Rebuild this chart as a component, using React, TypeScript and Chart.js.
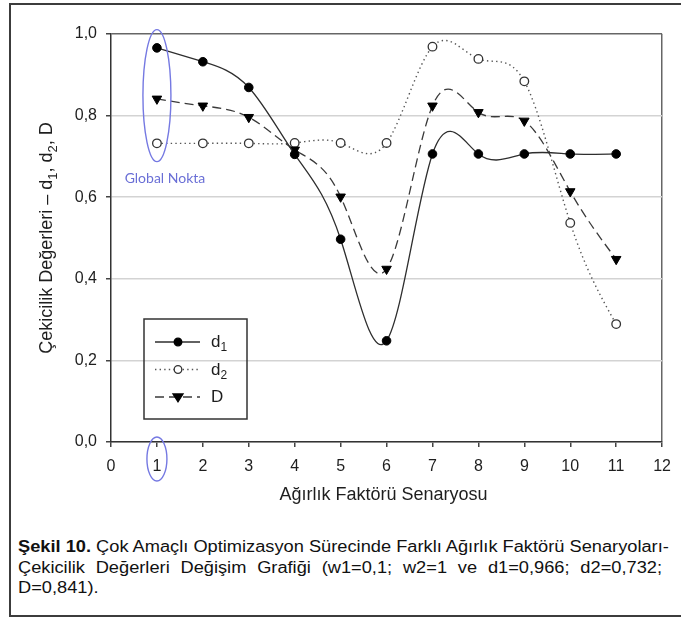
import React, { useEffect, useRef } from "react";
import { Chart, registerables } from "chart.js";

Chart.register(...registerables);

// ---- data ----
const scenarios = [1, 2, 3, 4, 5, 6, 7, 8, 9, 10, 11];
const d1Values = [0.966, 0.932, 0.869, 0.705, 0.497, 0.248, 0.706, 0.706, 0.706, 0.706, 0.706];
const d2Values = [0.732, 0.732, 0.732, 0.733, 0.733, 0.733, 0.969, 0.939, 0.884, 0.537, 0.289];
const dValues = [0.841, 0.824, 0.796, 0.716, 0.601, 0.424, 0.824, 0.808, 0.787, 0.614, 0.448];
const xTicks = [0, 1, 2, 3, 4, 5, 6, 7, 8, 9, 10, 11, 12];
const yTicks = [0, 0.2, 0.4, 0.6, 0.8, 1.0];
const seriesNames = ["d1", "d2", "D"];
const xTitle = "Ağırlık Faktörü Senaryosu";
const yTitleParts: [string, boolean][] = [
  ["Çekicilik Değerleri – d", false],
  ["1", true],
  [", d", false],
  ["2", true],
  [", D", false],
];
const globalLabel = "Global Nokta";
const globalScenario = 1;
const captionBold = "Şekil 10.";
const captionLines = [
  " Çok Amaçlı Optimizasyon Sürecinde Farklı Ağırlık Faktörü Senaryoları-",
  "Çekicilik Değerleri Değişim Grafiği (w1=0,1; w2=1 ve d1=0,966; d2=0,732;",
  "D=0,841).",
];

const FONT = "'Liberation Sans', Arial, sans-serif";

// natural cubic spline control points (pixel space)
const splinePlugin = {
  id: "naturalSpline",
  beforeDatasetDraw(chart: any, args: any) {
    const meta = args.meta;
    const line = meta.dataset;
    const pts = meta.data;
    const n = pts.length;
    if (!line || n < 3) return;
    const xs = pts.map((p: any) => p.x);
    const ys = pts.map((p: any) => p.y);
    const h: number[] = [];
    for (let i = 0; i < n - 1; i++) h.push(xs[i + 1] - xs[i]);
    const a = new Array(n).fill(0);
    const b = new Array(n).fill(0);
    const c = new Array(n).fill(0);
    const r = new Array(n).fill(0);
    b[0] = 1;
    b[n - 1] = 1;
    for (let i = 1; i < n - 1; i++) {
      a[i] = h[i - 1];
      b[i] = 2 * (h[i - 1] + h[i]);
      c[i] = h[i];
      r[i] = 6 * ((ys[i + 1] - ys[i]) / h[i] - (ys[i] - ys[i - 1]) / h[i - 1]);
    }
    for (let i = 1; i < n; i++) {
      const m = a[i] / b[i - 1];
      b[i] -= m * c[i - 1];
      r[i] -= m * r[i - 1];
    }
    const M = new Array(n).fill(0);
    M[n - 1] = r[n - 1] / b[n - 1];
    for (let i = n - 2; i >= 0; i--) M[i] = (r[i] - c[i] * M[i + 1]) / b[i];
    const der: number[] = [];
    for (let i = 0; i < n - 1; i++) {
      der.push((ys[i + 1] - ys[i]) / h[i] - (h[i] * (2 * M[i] + M[i + 1])) / 6);
    }
    der.push((ys[n - 1] - ys[n - 2]) / h[n - 2] + (h[n - 2] * (M[n - 2] + 2 * M[n - 1])) / 6);
    for (let i = 0; i < n; i++) {
      const p = pts[i];
      const hb = i > 0 ? h[i - 1] : 0;
      const ha = i < n - 1 ? h[i] : 0;
      p.cp1x = xs[i] - hb / 3;
      p.cp1y = ys[i] - (der[i] * hb) / 3;
      p.cp2x = xs[i] + ha / 3;
      p.cp2y = ys[i] + (der[i] * ha) / 3;
    }
    line._pointsUpdated = true;
    line._path = undefined;
  },
};

function drawMarker(ctx: CanvasRenderingContext2D, style: string, x: number, y: number, r: number, fill: string, stroke: string) {
  ctx.save();
  ctx.fillStyle = fill;
  ctx.strokeStyle = stroke;
  ctx.lineWidth = 1.3;
  ctx.setLineDash([]);
  ctx.beginPath();
  if (style === "triangle") {
    ctx.moveTo(x - r, y - r * 0.6);
    ctx.lineTo(x + r, y - r * 0.6);
    ctx.lineTo(x, y + r * 0.95);
    ctx.closePath();
  } else {
    ctx.arc(x, y, r, 0, Math.PI * 2);
  }
  ctx.fill();
  ctx.stroke();
  ctx.restore();
}

function drawSubText(ctx: CanvasRenderingContext2D, parts: [string, boolean][], x: number, y: number, size: number, align: "left" | "center") {
  const big = `${size}px ${FONT}`;
  const small = `${Math.round(size * 0.72)}px ${FONT}`;
  let total = 0;
  for (const [t, sub] of parts) {
    ctx.font = sub ? small : big;
    total += ctx.measureText(t).width;
  }
  let cx = align === "center" ? x - total / 2 : x;
  ctx.textBaseline = "alphabetic";
  ctx.textAlign = "left";
  for (const [t, sub] of parts) {
    ctx.font = sub ? small : big;
    ctx.fillText(t, cx, sub ? y + size * 0.25 : y);
    cx += ctx.measureText(t).width;
  }
}

const decorPlugin = {
  id: "decor",
  afterDraw(chart: any) {
    const ctx: CanvasRenderingContext2D = chart.ctx;
    const xs = chart.scales.x;
    const ys = chart.scales.y;
    const area = chart.chartArea;
    ctx.save();
    ctx.fillStyle = "#1e1e1e";
    // x title
    ctx.font = `18px ${FONT}`;
    ctx.textAlign = "center";
    ctx.textBaseline = "alphabetic";
    ctx.fillText(xTitle, (area.left + area.right) / 2 - 3, area.bottom + 58);
    // y title
    ctx.save();
    ctx.translate(52, (area.top + area.bottom) / 2);
    ctx.rotate(-Math.PI / 2);
    drawSubText(ctx, yTitleParts, 0, 0, 18, "center");
    ctx.restore();

    // global point annotation
    const gx = xs.getPixelForValue(globalScenario);
    ctx.strokeStyle = "#7579e2";
    ctx.lineWidth = 1.4;
    ctx.beginPath();
    ctx.ellipse(gx, ys.getPixelForValue(0.849), 14, 66, 0, 0, Math.PI * 2);
    ctx.stroke();
    ctx.beginPath();
    ctx.ellipse(gx, area.bottom + 17, 10, 22, 0, 0, Math.PI * 2);
    ctx.stroke();
    ctx.fillStyle = "#6a6fd6";
    ctx.font = `14px Lato, 'Open Sans', sans-serif`;
    ctx.textAlign = "center";
    ctx.fillText(globalLabel, gx + 8, ys.getPixelForValue(0.635));

    // legend
    const lx = area.left + 33;
    const ly = area.top + 285;
    ctx.strokeStyle = "#333";
    ctx.lineWidth = 1.5;
    ctx.setLineDash([]);
    ctx.strokeRect(lx, ly, 103, 100);
    chart.data.datasets.forEach((ds: any, i: number) => {
      const rowY = ly + 23 + i * 27.5;
      ctx.save();
      ctx.strokeStyle = ds.borderColor;
      ctx.lineWidth = ds.borderWidth;
      ctx.setLineDash(ds.borderDash || []);
      ctx.beginPath();
      ctx.moveTo(lx + 11, rowY);
      ctx.lineTo(lx + 56, rowY);
      ctx.stroke();
      ctx.restore();
      drawMarker(
        ctx,
        ds.pointStyle,
        lx + 34,
        rowY,
        ds.pointStyle === "triangle" ? 5 : 3.8,
        ds.pointBackgroundColor,
        ds.pointBorderColor
      );
      ctx.fillStyle = "#1e1e1e";
      const name = seriesNames[i];
      const parts: [string, boolean][] =
        name.length > 1 ? [[name[0], false], [name.slice(1), true]] : [[name, false]];
      drawSubText(ctx, parts, lx + 67, rowY + 5, 17, "left");
    });
    ctx.restore();
  },
};

function App() {
  const canvasRef = useRef<HTMLCanvasElement | null>(null);

  useEffect(() => {
    const canvas = canvasRef.current;
    if (!canvas) return;
    const mk = (vals: number[]) => scenarios.map((x, i) => ({ x, y: vals[i] }));
    const chart = new Chart(canvas, {
      type: "line",
      data: {
        datasets: [
          {
            label: seriesNames[0],
            data: mk(d1Values),
            borderColor: "#2e2e2e",
            borderWidth: 1.3,
            tension: 0.4,
            pointStyle: "circle",
            pointRadius: 4.3,
            pointBackgroundColor: "#000",
            pointBorderColor: "#000",
            pointBorderWidth: 1,
            order: 1,
          },
          {
            label: seriesNames[1],
            data: mk(d2Values),
            borderColor: "#555",
            borderWidth: 1.4,
            borderDash: [1.4, 3.2],
            tension: 0.4,
            pointStyle: "circle",
            pointRadius: 4.3,
            pointBackgroundColor: "#fff",
            pointBorderColor: "#333",
            pointBorderWidth: 1.3,
            order: 3,
          },
          {
            label: seriesNames[2],
            data: mk(dValues),
            borderColor: "#3a3a3a",
            borderWidth: 1.3,
            borderDash: [9, 5],
            tension: 0.4,
            pointStyle: "triangle",
            rotation: 180,
            pointRadius: 5.5,
            pointBackgroundColor: "#000",
            pointBorderColor: "#000",
            pointBorderWidth: 1,
            order: 2,
          },
        ] as any,
      },
      options: {
        responsive: false,
        animation: false,
        events: [],
        layout: { padding: { left: 0, top: 34, right: 11, bottom: 0 } },
        plugins: {
          legend: { display: false },
          tooltip: { enabled: false },
          title: { display: false },
        },
        scales: {
          x: {
            type: "linear",
            min: xTicks[0],
            max: xTicks[xTicks.length - 1],
            afterBuildTicks: (s: any) => {
              s.ticks = xTicks.map((v) => ({ value: v }));
            },
            afterFit: (s: any) => {
              s.height = 78;
            },
            ticks: {
              color: "#1e1e1e",
              font: { family: FONT, size: 16 },
              padding: 10,
              maxRotation: 0,
              autoSkip: false,
              callback: (v: any) => String(v),
            },
            grid: {
              color: (c: any) => (c.tick && c.tick.value === xTicks[xTicks.length - 1] ? "#666" : "rgba(0,0,0,0)"),
              tickColor: "#444",
              tickLength: 5,
              lineWidth: 1.5,
            },
            border: { color: "#333", width: 1.5 },
          },
          y: {
            type: "linear",
            min: yTicks[0],
            max: yTicks[yTicks.length - 1],
            afterBuildTicks: (s: any) => {
              s.ticks = yTicks.map((v) => ({ value: v }));
            },
            afterFit: (s: any) => {
              s.width = 111;
            },
            ticks: {
              color: "#1e1e1e",
              font: { family: FONT, size: 16 },
              padding: 9,
              callback: (v: any) => Number(v).toFixed(1).replace(".", ","),
            },
            grid: {
              color: (c: any) =>
                c.tick && Math.abs(c.tick.value - 1) < 1e-9 ? "#666" : "#d3d3d3",
              tickColor: "#444",
              tickLength: 5,
              lineWidth: 1.5,
            },
            border: { color: "#333", width: 1.5 },
          },
        },
      } as any,
      plugins: [splinePlugin, decorPlugin],
    });
    return () => chart.destroy();
  }, []);

  const SCALE = 1.14;
  return (
    <div style={{ position: "absolute", left: 0, top: 0, width: 681, height: 620, overflow: "hidden", background: "#fff" }}>
      <div
        style={{
          position: "absolute",
          left: 9,
          top: 3,
          width: 700,
          height: 614,
          border: "2px solid #3c3c3c",
          boxSizing: "border-box",
        }}
      />
      <canvas
        ref={canvasRef}
        width={681}
        height={520}
        style={{ position: "absolute", left: 0, top: 0, width: 681, height: 520 }}
      />
      <div
        style={{
          position: "absolute",
          left: 18,
          top: 537,
          width: 644 / SCALE,
          transform: `scaleX(${SCALE})`,
          transformOrigin: "0 0",
          fontFamily: "'Liberation Sans Narrow', 'Arial Narrow', 'Liberation Sans', sans-serif",
          fontSize: 16,
          lineHeight: "20.5px",
          color: "#111",
        }}
      >
        <div style={{ textAlign: "justify", textAlignLast: "justify", whiteSpace: "nowrap" }}>
          <b>{captionBold}</b>
          {captionLines[0]}
        </div>
        <div style={{ textAlign: "justify", textAlignLast: "justify", whiteSpace: "nowrap" }}>{captionLines[1]}</div>
        <div style={{ whiteSpace: "nowrap" }}>{captionLines[2]}</div>
      </div>
    </div>
  );
}

export default App;
